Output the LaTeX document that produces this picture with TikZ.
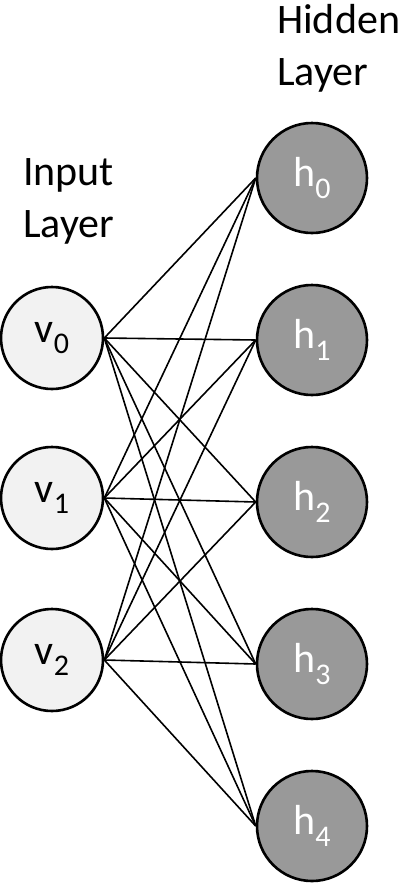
\documentclass[tikz,border=0pt]{standalone}
\usepackage{fontspec}
\setmainfont{Carlito}
\newcommand{\lsub}[1]{\raisebox{-0.27em}{\fontsize{30}{30}\selectfont #1}}
\begin{document}
\begin{tikzpicture}[x=1pt,y=-1pt,
	visible/.style={circle,draw=black,line width=2.6pt,fill=black!5,minimum size=102pt,inner sep=0pt,font=\fontsize{42}{42}\selectfont},
	hidden/.style={circle,draw=black,line width=2.6pt,fill=black!40,text=white,minimum size=110pt,inner sep=0pt,font=\fontsize{42}{42}\selectfont},
	layer/.style={anchor=north west,align=left,inner sep=0pt,font=\fontsize{42}{52}\selectfont}]
	\useasboundingbox (0,0) rectangle (417,884);
%		labels
		\node[layer] (il) at (23,158) {Input\\Layer};
		\node[layer] (hl) at (277,4) {Hidden\\Layer};
%		input
		\node[visible] (v0) at (52,338) {v\lsub{0}};
		\node[visible] (v1) at (52,498) {v\lsub{1}};
		\node[visible] (v2) at (52,660) {v\lsub{2}};
%		hidden
		\node[hidden] (h0) at (312,178) {h\lsub{0}};
		\node[hidden] (h1) at (312,340) {h\lsub{1}};
		\node[hidden] (h2) at (312,502) {h\lsub{2}};
		\node[hidden] (h3) at (312,664) {h\lsub{3}};
		\node[hidden] (h4) at (312,826) {h\lsub{4}};
%		weights
	\begin{scope}[on background layer/.try]
		\draw[line width=1.6pt] (v0.east) -- (h0.west);
		\draw[line width=1.6pt] (v0.east) -- (h1.west);
		\draw[line width=1.6pt] (v0.east) -- (h2.west);
		\draw[line width=1.6pt] (v0.east) -- (h3.west);
		\draw[line width=1.6pt] (v0.east) -- (h4.west);
		\draw[line width=1.6pt] (v1.east) -- (h0.west);
		\draw[line width=1.6pt] (v1.east) -- (h1.west);
		\draw[line width=1.6pt] (v1.east) -- (h2.west);
		\draw[line width=1.6pt] (v1.east) -- (h3.west);
		\draw[line width=1.6pt] (v1.east) -- (h4.west);
		\draw[line width=1.6pt] (v2.east) -- (h0.west);
		\draw[line width=1.6pt] (v2.east) -- (h1.west);
		\draw[line width=1.6pt] (v2.east) -- (h2.west);
		\draw[line width=1.6pt] (v2.east) -- (h3.west);
		\draw[line width=1.6pt] (v2.east) -- (h4.west);
	\end{scope}
\end{tikzpicture}
\end{document}
